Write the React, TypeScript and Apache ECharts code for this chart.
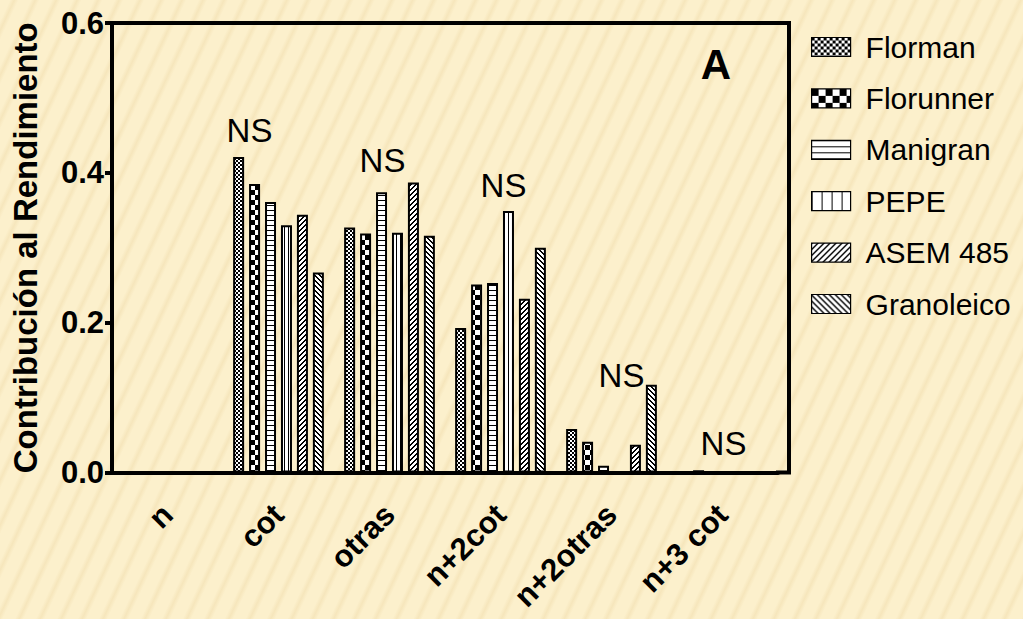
import React, { useEffect, useRef } from "react";
import * as echarts from "echarts";

const categories = ["n", "cot", "otras", "n+2cot", "n+2otras", "n+3 cot"];
const seriesNames = ["Florman", "Florunner", "Manigran", "PEPE", "ASEM 485", "Granoleico"];
const florman = [0, 0.421, 0.327, 0.193, 0.058, 0];
const florunner = [0, 0.385, 0.319, 0.251, 0.041, 0.003];
const manigran = [0, 0.361, 0.374, 0.253, 0.009, 0];
const pepe = [0, 0.33, 0.32, 0.349, 0, 0];
const asem485 = [0, 0.344, 0.387, 0.232, 0.037, 0];
const granoleico = [0, 0.267, 0.316, 0.3, 0.117, 0];
const seriesValues = [florman, florunner, manigran, pepe, asem485, granoleico];
const nsCategories = ["cot", "otras", "n+2cot", "n+2otras", "n+3 cot"];
const nsHeights = [0.457, 0.417, 0.383, 0.129, 0.039];
const yTicks = [0, 0.2, 0.4, 0.6];

const FONT = "'Liberation Sans', Arial, Helvetica, sans-serif";

type Draw = (ctx: CanvasRenderingContext2D, w: number, h: number) => void;
function tile(w: number, h: number, draw: Draw) {
  const c = document.createElement("canvas");
  c.width = w;
  c.height = h;
  const ctx = c.getContext("2d")!;
  ctx.fillStyle = "#ffffff";
  ctx.fillRect(0, 0, w, h);
  ctx.fillStyle = "#000000";
  draw(ctx, w, h);
  return { image: c.toDataURL(), repeat: "repeat", imageWidth: w, imageHeight: h } as any;
}
const checker = (s: number) =>
  tile(2 * s, 2 * s, (ctx) => {
    ctx.fillRect(0, 0, s, s);
    ctx.fillRect(s, s, s, s);
  });
const hLines = (p: number, t: number) => tile(1, p, (ctx) => ctx.fillRect(0, 0, 1, t));
const vLines = (p: number, t: number) => tile(p, 1, (ctx) => ctx.fillRect(0, 0, t, 1));
const diagUp = (p: number, t: number) =>
  tile(p, p, (ctx) => {
    for (let i = 0; i < p; i++) for (let k = 0; k < t; k++) ctx.fillRect(i, (p - 1 - i + k) % p, 1, 1);
  });
const diagDown = (p: number, t: number) =>
  tile(p, p, (ctx) => {
    for (let i = 0; i < p; i++) for (let k = 0; k < t; k++) ctx.fillRect(i, (i + k) % p, 1, 1);
  });

export default function App() {
  const ref = useRef<HTMLDivElement>(null);
  useEffect(() => {
    const chart = echarts.init(ref.current!, undefined, { renderer: "svg" });
    const barPatterns = [checker(2), checker(5), hLines(5, 1), vLines(4, 1), diagUp(5, 2), diagDown(5, 2)];
    const legendPatterns = [checker(3), checker(7), hLines(6, 1), vLines(10, 1), diagUp(6, 2), diagDown(6, 2)];

    const barSeries = seriesNames.map((name, i) => ({
      name,
      type: "bar",
      data: seriesValues[i],
      barWidth: 11,
      barGap: "45%",
      itemStyle: { color: barPatterns[i], borderColor: "#000", borderWidth: 2 },
      silent: true,
    }));

    const nsOffsets = [-29, -7, 3, 10, 1];
    const nsSeries = {
      type: "scatter",
      symbolSize: 0,
      silent: true,
      itemStyle: { opacity: 1 },
      data: nsCategories.map((c, i) => ({
        value: [c, nsHeights[i]],
        label: { offset: [nsOffsets[i], 0] },
      })),
      label: {
        show: true,
        position: "inside",
        formatter: "NS",
        fontSize: 33,
        fontFamily: FONT,
        color: "#000000",
        textBorderWidth: 0,
        opacity: 1,
      },
    };

    chart.setOption({
      animation: false,
      backgroundColor: "transparent",
      grid: { left: 112, right: 245, top: 23, bottom: 146.5, containLabel: false },
      legend: {
        orient: "vertical",
        left: 806,
        top: 25,
        itemWidth: 39,
        itemHeight: 19,
        itemGap: 17.4,
        icon: "rect",
        selectedMode: false,
        textStyle: { fontSize: 30, fontFamily: FONT, color: "#000", lineHeight: 34, padding: [0, 0, 0, 10] },
        data: seriesNames.map((name, i) => ({
          name,
          itemStyle: { color: legendPatterns[i], borderColor: "#000", borderWidth: 1.2 },
        })),
      },
      xAxis: {
        type: "category",
        data: categories,
        axisLine: { lineStyle: { color: "#000", width: 4 } },
        axisTick: { alignWithLabel: true, length: 7, lineStyle: { color: "#000", width: 4 } },
        axisLabel: {
          rotate: 45,
          interval: 0,
          margin: 37,
          fontSize: 31,
          fontWeight: "bold",
          fontFamily: FONT,
          color: "#000",
        },
      },
      yAxis: {
        type: "value",
        min: yTicks[0],
        max: yTicks[yTicks.length - 1],
        interval: 0.2,
        name: "Contribución al Rendimiento",
        nameLocation: "middle",
        nameGap: 70,
        nameTextStyle: { fontSize: 33, fontWeight: "bold", fontFamily: FONT, color: "#000" },
        axisLine: { show: true, lineStyle: { color: "#000", width: 4 } },
        axisTick: { show: true, length: 7, lineStyle: { color: "#000", width: 4 } },
        splitLine: { show: false },
        axisLabel: {
          margin: 8,
          fontSize: 31,
          fontWeight: "bold",
          fontFamily: FONT,
          color: "#000",
          formatter: (v: number) => v.toFixed(1),
        },
      },
      graphic: [
        { type: "line", shape: { x1: 110, y1: 23, x2: 791, y2: 23 }, style: { stroke: "#000", lineWidth: 4 } },
        { type: "line", shape: { x1: 789, y1: 21, x2: 789, y2: 474 }, style: { stroke: "#000", lineWidth: 4 } },
        { type: "line", shape: { x1: 776, y1: 472.5, x2: 791, y2: 472.5 }, style: { stroke: "#000", lineWidth: 4 } },
        {
          type: "text",
          x: 716,
          y: 64,
          style: {
            text: "A",
            fontSize: 42,
            fontWeight: "bold",
            fontFamily: FONT,
            fill: "#000",
            align: "center",
            verticalAlign: "middle",
          },
        },
      ],
      series: [...barSeries, nsSeries],
    });
    return () => chart.dispose();
  }, []);

  return (
    <div
      style={{
        position: "fixed",
        left: 0,
        top: 0,
        width: 1023,
        height: 619,
        background:
          "repeating-linear-gradient(115deg, #fcf0cc 0px, #fcf0cc 9px, #f6e6bc 13px, #fcf0cc 17px, #fcf0cc 19px)",
      }}
    >
      <div ref={ref} style={{ width: 1023, height: 619 }} />
    </div>
  );
}
